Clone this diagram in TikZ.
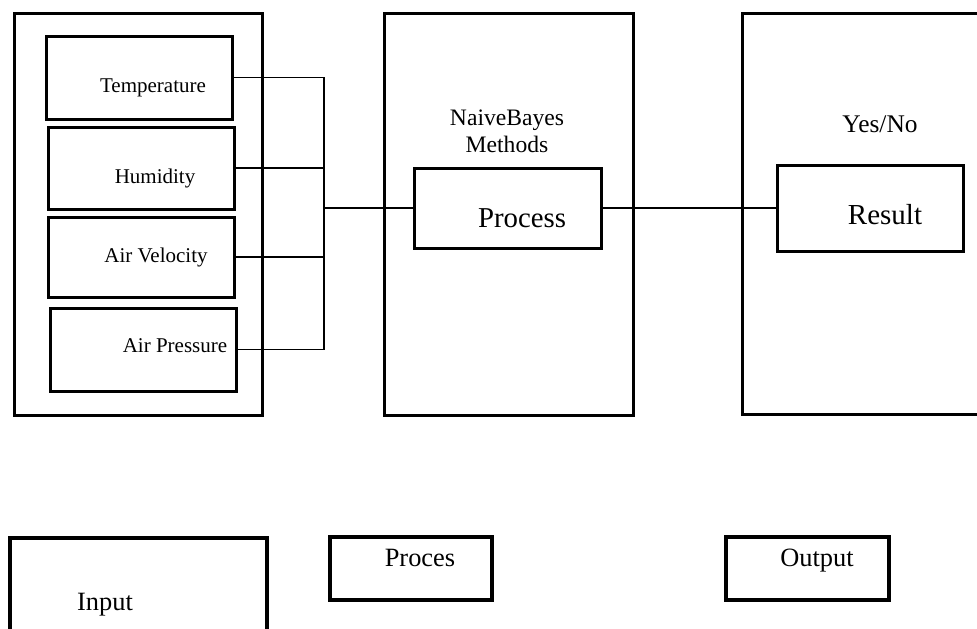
\documentclass[tikz,border=0pt]{standalone}
\usepackage{fontspec}
\setmainfont{Liberation Serif}
\usetikzlibrary{fit}

\begin{document}
\begin{tikzpicture}[x=0.5pt,y=-0.5pt,
  kasten/.style={draw,line width=1.5pt,inner sep=0pt,outer sep=0pt},
  legende/.style={draw,line width=2pt,inner sep=0pt,outer sep=0pt},
  leitung/.style={line width=0.8pt},
  txt/.style={inner sep=0pt,anchor=base,font=\fontsize{#1}{#1}\selectfont}]
  \useasboundingbox (0,0) rectangle (977,628);
  \clip (0,0) rectangle (977,628);
  % Rahmen
  \node[kasten,fit={(14,13) (262,415)}] (inp) {};
  \node[kasten,fit={(384,13) (633,415)}] (meth) {};
  \node[kasten,fit={(742,13) (1000,414)}] (outp) {};
  % Sensoren
  \node[kasten,fit={(46,36) (232,119)}] (temp) {};
  \node[kasten,fit={(48,127) (234,209)}] (hum) {};
  \node[kasten,fit={(48,217) (234,297)}] (vel) {};
  \node[kasten,fit={(50,308) (236,391)}] (pres) {};
  \node[txt=10.5] at (153,92) {Temperature};
  \node[txt=10.5] at (155,183) {Humidity};
  \node[txt=10.5] at (156,262) {Air Velocity};
  \node[txt=10.5] at (175,352) {Air Pressure};
  % Verfahren und Ergebnis
  \node[kasten,fit={(414,168) (601,248)}] (proc) {};
  \node[kasten,fit={(777,165) (963,251)}] (res) {};
  \node[inner sep=0pt,anchor=north,align=center,font=\fontsize{11.8}{13.5}\selectfont]
    at (507,109) {NaiveBayes\\Methods};
  \node[txt=14.4] at (522,227) {Process};
  \node[txt=12.7] at (880,132) {Yes/No};
  \node[txt=14.5] at (885,224) {Result};
  % Leitungen
  \coordinate (bus) at (324,208);
  \draw[leitung] (temp.east) -- (temp.east -| bus) -- (pres.east -| bus) -- (pres.east);
  \foreach \s in {hum,vel} \draw[leitung] (\s.east) -- (\s.east -| bus);
  \draw[leitung] (bus) -- (proc.west);
  \draw[leitung] (proc.east) -- (proc.east -| res.west);
  % Legende
  \node[legende,fit={(10,538) (267,650)}] (keyin) {};
  \node[legende,fit={(330,537) (492,600)}] (keyproc) {};
  \node[legende,fit={(726,537) (889,600)}] (keyout) {};
  \node[txt=13.2] at (105,610) {Input};
  \node[txt=13.2] at (420,566) {Proces};
  \node[txt=13.2] at (817,566) {Output};
\end{tikzpicture}
\end{document}
